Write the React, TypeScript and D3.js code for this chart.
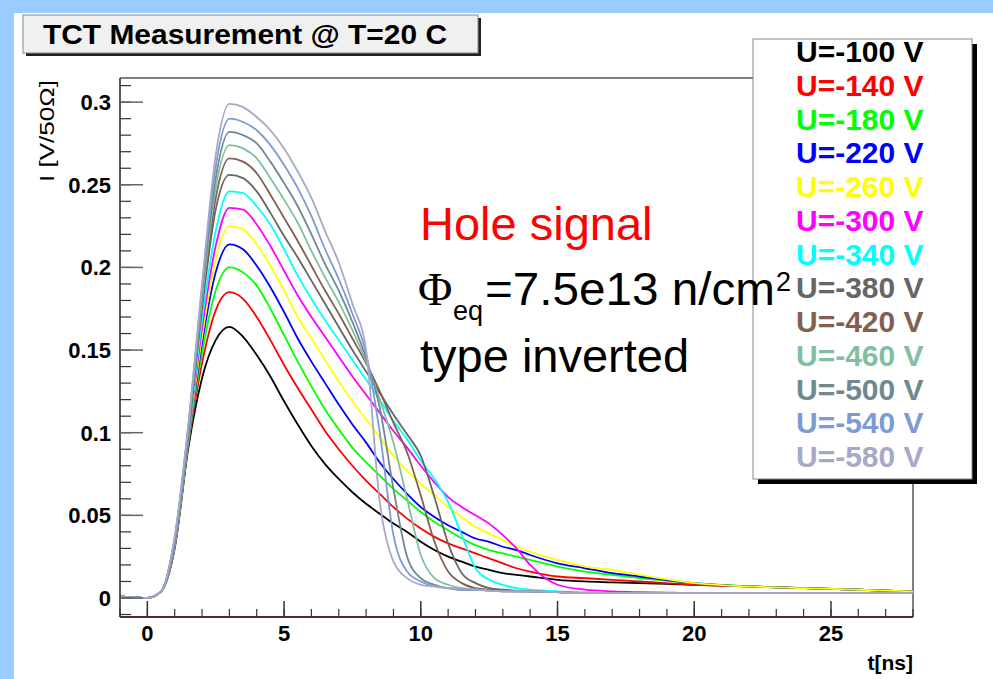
import React from 'react';
import * as d3 from 'd3';

// sample times (ns) shared by every curve
const times = [-1, 0, 0.5, 1, 1.5, 2, 2.5, 3, 3.5, 4, 4.5, 5, 5.5, 6, 6.5, 7, 7.5, 8, 8.5, 9,
  9.5, 10, 10.5, 11, 11.5, 12, 12.5, 13, 13.5, 14, 15, 16, 17, 18, 20, 22, 24, 26, 28];

// current I [V/50 Ohm]
const u100 = [0.001, 0, 0.004, 0.030, 0.091, 0.133, 0.156, 0.164, 0.158, 0.147,
  0.134, 0.119, 0.105, 0.092, 0.081, 0.072, 0.064, 0.057, 0.051, 0.045,
  0.040, 0.034, 0.029, 0.025, 0.022, 0.019, 0.017, 0.015, 0.014, 0.013,
  0.011, 0.010, 0.0095, 0.009, 0.008, 0.007, 0.006, 0.005, 0.004];
const u140 = [0.001, 0, 0.004, 0.031, 0.093, 0.142, 0.174, 0.185, 0.181, 0.170,
  0.156, 0.141, 0.127, 0.114, 0.101, 0.090, 0.080, 0.071, 0.063, 0.055,
  0.048, 0.042, 0.037, 0.033, 0.030, 0.027, 0.024, 0.021, 0.018, 0.016,
  0.013, 0.012, 0.011, 0.010, 0.008, 0.007, 0.006, 0.005, 0.004];
const u180 = [0.001, 0, 0.004, 0.031, 0.094, 0.148, 0.186, 0.200, 0.197, 0.189,
  0.175, 0.159, 0.143, 0.128, 0.114, 0.102, 0.091, 0.082, 0.074, 0.066,
  0.059, 0.052, 0.046, 0.041, 0.036, 0.032, 0.029, 0.027, 0.025, 0.023,
  0.019, 0.016, 0.014, 0.012, 0.009, 0.007, 0.006, 0.005, 0.004];
const u220 = [0.001, 0, 0.004, 0.032, 0.095, 0.154, 0.197, 0.214, 0.211, 0.201,
  0.188, 0.173, 0.157, 0.143, 0.130, 0.117, 0.105, 0.094, 0.082, 0.072,
  0.063, 0.055, 0.049, 0.044, 0.040, 0.036, 0.034, 0.031, 0.029, 0.026,
  0.021, 0.018, 0.015, 0.013, 0.009, 0.007, 0.006, 0.005, 0.004];
const u260 = [0.001, 0, 0.004, 0.032, 0.096, 0.158, 0.205, 0.225, 0.223, 0.214,
  0.201, 0.186, 0.170, 0.157, 0.144, 0.131, 0.119, 0.108, 0.097, 0.086,
  0.077, 0.069, 0.062, 0.055, 0.049, 0.043, 0.039, 0.035, 0.031, 0.028,
  0.023, 0.019, 0.017, 0.014, 0.009, 0.007, 0.006, 0.005, 0.004];
const u300 = [0.001, 0, 0.004, 0.032, 0.097, 0.163, 0.213, 0.236, 0.235, 0.226,
  0.213, 0.198, 0.183, 0.170, 0.158, 0.146, 0.134, 0.123, 0.112, 0.101,
  0.091, 0.080, 0.070, 0.061, 0.055, 0.050, 0.045, 0.038, 0.030, 0.020,
  0.008, 0.005, 0.004, 0.0035, 0.003, 0.003, 0.003, 0.003, 0.003];
const u340 = [0.001, 0, 0.004, 0.033, 0.098, 0.168, 0.222, 0.246, 0.245, 0.237,
  0.226, 0.211, 0.195, 0.181, 0.168, 0.156, 0.144, 0.132, 0.120, 0.107,
  0.096, 0.083, 0.072, 0.058, 0.038, 0.018, 0.011, 0.008, 0.006, 0.005,
  0.004, 0.0035, 0.003, 0.003, 0.003, 0.003, 0.003, 0.003, 0.003];
const u380 = [0.001, 0, 0.004, 0.034, 0.100, 0.175, 0.235, 0.256, 0.254, 0.246,
  0.233, 0.219, 0.206, 0.192, 0.178, 0.164, 0.150, 0.137, 0.124, 0.111,
  0.099, 0.086, 0.061, 0.033, 0.015, 0.009, 0.006, 0.005, 0.0045, 0.004,
  0.0035, 0.003, 0.003, 0.003, 0.003, 0.003, 0.003, 0.003, 0.003];
const u420 = [0.001, 0, 0.004, 0.035, 0.101, 0.178, 0.242, 0.266, 0.264, 0.257,
  0.244, 0.230, 0.216, 0.201, 0.186, 0.172, 0.157, 0.142, 0.125, 0.106,
  0.088, 0.062, 0.034, 0.016, 0.009, 0.006, 0.005, 0.0045, 0.004, 0.004,
  0.0035, 0.003, 0.003, 0.003, 0.003, 0.003, 0.003, 0.003, 0.003];
const u460 = [0.001, 0, 0.004, 0.035, 0.102, 0.181, 0.248, 0.274, 0.272, 0.266,
  0.254, 0.241, 0.227, 0.210, 0.194, 0.179, 0.162, 0.143, 0.120, 0.094,
  0.060, 0.026, 0.012, 0.008, 0.006, 0.005, 0.0045, 0.004, 0.004, 0.004,
  0.0035, 0.003, 0.003, 0.003, 0.003, 0.003, 0.003, 0.003, 0.003];
const u500 = [0.001, 0, 0.004, 0.036, 0.103, 0.184, 0.254, 0.282, 0.280, 0.275,
  0.264, 0.251, 0.237, 0.220, 0.202, 0.186, 0.167, 0.145, 0.115, 0.066,
  0.025, 0.012, 0.008, 0.006, 0.005, 0.005, 0.0045, 0.004, 0.004, 0.004,
  0.0035, 0.003, 0.003, 0.003, 0.003, 0.003, 0.003, 0.003, 0.003];
const u540 = [0.001, 0, 0.004, 0.036, 0.104, 0.187, 0.261, 0.290, 0.288, 0.283,
  0.274, 0.262, 0.248, 0.231, 0.211, 0.193, 0.172, 0.148, 0.100, 0.038,
  0.016, 0.010, 0.007, 0.006, 0.005, 0.005, 0.0045, 0.004, 0.004, 0.004,
  0.0035, 0.003, 0.003, 0.003, 0.003, 0.003, 0.003, 0.003, 0.003];
const u580 = [0.001, 0, 0.004, 0.037, 0.105, 0.190, 0.268, 0.299, 0.297, 0.291,
  0.283, 0.272, 0.258, 0.242, 0.222, 0.203, 0.178, 0.150, 0.058, 0.022,
  0.012, 0.008, 0.007, 0.006, 0.006, 0.005, 0.0045, 0.004, 0.004, 0.004,
  0.0035, 0.003, 0.003, 0.003, 0.003, 0.003, 0.003, 0.003, 0.003];

const labels = ['U=-100 V', 'U=-140 V', 'U=-180 V', 'U=-220 V', 'U=-260 V', 'U=-300 V', 'U=-340 V',
  'U=-380 V', 'U=-420 V', 'U=-460 V', 'U=-500 V', 'U=-540 V', 'U=-580 V'];
const colors = ['#000000', '#ff0000', '#00ff00', '#0000ff', '#ffff00', '#ff00ff', '#00ffff',
  '#666666', '#806050', '#80c0a0', '#708890', '#7b9bd5', '#a8a8c8'];

const yTicks = [0, 0.05, 0.1, 0.15, 0.2, 0.25, 0.3];
const yTickLabels = ['0', '0.05', '0.1', '0.15', '0.2', '0.25', '0.3'];
const xTicks = [0, 5, 10, 15, 20, 25];

const FONT = '"Liberation Sans", Arial, Helvetica, sans-serif';

export default function App() {
  const series = [u100, u140, u180, u220, u260, u300, u340, u380, u420, u460, u500, u540, u580];

  const x = d3.scaleLinear().domain([-1, 28]).range([120, 913]);
  const y = d3.scaleLinear().domain([-0.0115, 0.3146]).range([617, 78]);

  const line = d3.line<number>()
    .x((_, i) => x(times[i]))
    .y(d => y(d))
    .curve(d3.curveMonotoneX);

  const yMinor = d3.range(-1, 32).map(k => k / 100);
  const xMinor = d3.range(-1, 29);

  // legend rows
  const legTop = 62;
  const legStep = 33.75;

  return (
    <>
      <style>{'body{margin:0;}'}</style>
      <svg width={993} height={679} style={{ display: 'block', fontFamily: FONT }}>
        <rect x={0} y={0} width={993} height={679} fill="#99ccff" />
        <rect x={14} y={13} width={979} height={666} fill="#ffffff" />

        {/* title box */}
        <rect x={26} y={18} width={455} height={38} fill="#222" />
        <rect x={23} y={15} width={455} height={38} fill="#f0f0f0" stroke="#888" strokeWidth={1} />
        <text x={43} y={44} fontSize={27} fontWeight="bold" textLength={404} lengthAdjust="spacingAndGlyphs">
          TCT Measurement @ T=20 C
        </text>

        {/* frame */}
        <line x1={120} x2={913} y1={78} y2={78} stroke="#555" strokeWidth={1.5} />
        <line x1={913} x2={913} y1={78} y2={617} stroke="#555" strokeWidth={1.5} />

        {/* curves */}
        {series.map((s, i) => (
          <path key={labels[i]} d={line(s) || ''} fill="none" stroke={colors[i]} strokeWidth={1.8}
            strokeLinejoin="round" />
        ))}

        {/* y axis */}
        <line x1={120} x2={120} y1={78} y2={617} stroke="#222" strokeWidth={1.5} />
        {yMinor.map(v => (
          <line key={'ym' + v} x1={120} x2={131} y1={y(v)} y2={y(v)} stroke="#333" strokeWidth={1.2} />
        ))}
        {yTicks.map((v, i) => (
          <g key={'y' + v}>
            <line x1={120} x2={143} y1={y(v)} y2={y(v)} stroke="#666" strokeWidth={1.5} />
            <text x={111} y={y(v) + 8} textAnchor="end" fontSize={22} fontWeight="bold">{yTickLabels[i]}</text>
          </g>
        ))}

        {/* x axis */}
        <line x1={120} x2={913} y1={617} y2={617} stroke="#4a3030" strokeWidth={2} />
        {xMinor.map(v => (
          <line key={'xm' + v} x1={x(v)} x2={x(v)} y1={617} y2={609} stroke="#333" strokeWidth={1.2} />
        ))}
        {xTicks.map(v => (
          <g key={'x' + v}>
            <line x1={x(v)} x2={x(v)} y1={617} y2={601} stroke="#333" strokeWidth={1.5} />
            <text x={x(v)} y={641} textAnchor="middle" fontSize={22} fontWeight="bold">{v}</text>
          </g>
        ))}
        <text x={913} y={670} textAnchor="end" fontSize={21} fontWeight="bold">t[ns]</text>

        <text transform="translate(54,80) rotate(-90)" textAnchor="end" fontSize={20}
          textLength={102} lengthAdjust="spacingAndGlyphs">I [V/50Ω]</text>

        {/* legend */}
        <rect x={758} y={44} width={219} height={440} fill="#000" />
        <rect x={753} y={39} width={219} height={440} fill="#ffffff" stroke="#888" strokeWidth={1} />
        {labels.map((l, i) => (
          <text key={'l' + l} x={796} y={legTop + i * legStep} fontSize={30} fontWeight="bold" fill={colors[i]}>
            {l}
          </text>
        ))}

        {/* annotation, drawn on top of the legend edge */}
        <text x={420} y={240} fontSize={47} fill="#ff0000">Hole signal</text>
        <text x={418} y={305} fontSize={47} fontFamily='"Liberation Serif", "DejaVu Serif", serif'>Φ</text>
        <text x={453} y={320} fontSize={27}>eq</text>
        <text x={485} y={305} fontSize={47} textLength={290} lengthAdjust="spacingAndGlyphs">=7.5e13 n/cm</text>
        <text x={776} y={291} fontSize={27}>2</text>
        <text x={420} y={372} fontSize={47}>type inverted</text>
      </svg>
    </>
  );
}
